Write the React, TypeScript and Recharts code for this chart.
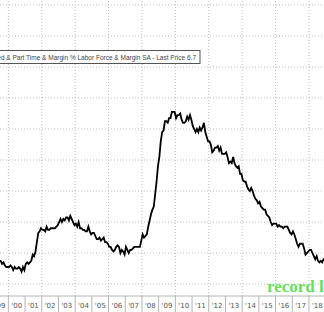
import { LineChart, Line, XAxis, YAxis, ReferenceLine } from "recharts";

// U-6 monthly values (SA), one row per year starting in 1999
const START_YEAR = 1999;
const U6_BY_YEAR: number[][] = [
  [7.7, 7.4, 7.6, 7.6, 7.4, 7.5, 7.5, 7.3, 7.4, 7.2, 7.1, 7.1],
  [7.1, 7.2, 7.1, 6.9, 7.1, 7.0, 7.0, 7.1, 7.0, 6.8, 7.1, 6.9],
  [7.3, 7.4, 7.3, 7.4, 7.5, 7.9, 7.8, 8.1, 8.7, 9.3, 9.4, 9.6],
  [9.5, 9.5, 9.4, 9.7, 9.5, 9.5, 9.6, 9.6, 9.6, 9.6, 9.7, 9.8],
  [10.0, 10.2, 10.0, 10.2, 10.1, 10.3, 10.3, 10.1, 10.4, 10.2, 10.0, 9.8],
  [9.9, 9.7, 10.0, 9.6, 9.6, 9.5, 9.5, 9.4, 9.4, 9.7, 9.4, 9.2],
  [9.3, 9.3, 9.1, 8.9, 8.9, 9.0, 8.8, 8.9, 9.0, 8.7, 8.7, 8.6],
  [8.4, 8.4, 8.2, 8.1, 8.2, 8.4, 8.5, 8.4, 8.0, 8.2, 8.1, 7.9],
  [8.4, 8.2, 8.0, 8.2, 8.2, 8.3, 8.4, 8.4, 8.4, 8.4, 8.4, 8.8],
  [9.2, 9.0, 9.1, 9.2, 9.7, 10.1, 10.5, 10.8, 11.0, 11.8, 12.6, 13.6],
  [14.2, 15.2, 15.8, 15.9, 16.5, 16.5, 16.4, 16.7, 16.7, 17.1, 17.1, 17.1],
  [16.7, 16.9, 16.9, 17.0, 16.6, 16.4, 16.4, 16.5, 16.8, 16.6, 16.9, 16.6],
  [16.2, 16.0, 15.8, 16.0, 15.8, 16.1, 15.9, 16.1, 16.4, 15.8, 15.5, 15.2],
  [15.2, 15.0, 14.5, 14.6, 14.8, 14.8, 14.9, 14.6, 14.8, 14.4, 14.4, 14.4],
  [14.5, 14.2, 13.8, 13.9, 13.8, 14.2, 13.8, 13.6, 13.5, 13.6, 13.1, 13.1],
  [12.7, 12.6, 12.6, 12.3, 12.1, 12.0, 12.2, 12.0, 11.7, 11.5, 11.4, 11.2],
  [11.3, 11.0, 10.9, 10.8, 10.8, 10.5, 10.4, 10.3, 10.0, 9.8, 9.9, 9.9],
  [9.9, 9.7, 9.8, 9.7, 9.7, 9.6, 9.7, 9.7, 9.7, 9.5, 9.3, 9.2],
  [9.4, 9.2, 8.9, 8.6, 8.4, 8.6, 8.6, 8.6, 8.3, 7.9, 8.0, 8.1],
  [8.2, 8.2, 8.0, 7.8, 7.6, 7.8, 7.5, 7.4, 7.5, 7.4, 7.6, 7.6],
  [8.1, 7.3, 7.3, 7.3, 7.1, 7.2, 7.0, 7.2, 6.9, 7.0, 6.9, 6.7],
];

const X_DOMAIN: [number, number] = [1999.5, 2018.9];
const Y_DOMAIN: [number, number] = [5.23, 24.32];
const Y_GRID = [6, 8, 10, 12, 14, 16, 18, 20, 22, 24];
const X_GRID = [2000, 2002, 2004, 2006, 2008, 2010, 2012, 2014, 2016, 2018];
const YEAR_BOUNDS = [2000, 2001, 2002, 2003, 2004, 2005, 2006, 2007, 2008, 2009, 2010, 2011, 2012, 2013, 2014, 2015, 2016, 2017, 2018];
const YEAR_MIDS = [1999, ...YEAR_BOUNDS].map((y) => y + 0.5);

const LEGEND = "U-6 US Unemployed & Part Time & Margin % Labor Force & Margin SA - Last Price 6.7";

const data = U6_BY_YEAR.flatMap((row, i) =>
  row.map((v, m) => ({ t: START_YEAR + i + (m + 0.5) / 12, u6: v }))
);

function YearTick(props: any) {
  const { x, y, payload } = props;
  const v = payload.value as number;
  if (Number.isInteger(v)) {
    return <line x1={x} x2={x} y1={y} y2={y + 16} stroke="#b4b4b4" strokeWidth={1} />;
  }
  const yr = String(Math.floor(v) % 100).padStart(2, "0");
  return (
    <text x={x} y={y + 12} textAnchor="middle" fontSize={7} fill="#555" fontFamily="'DejaVu Sans', sans-serif">
      {`'${yr}`}
    </text>
  );
}

export default function App() {
  return (
    <div style={{ position: "fixed", left: 0, top: 0, width: 324, height: 312, background: "#fff", overflow: "hidden" }}>
      <LineChart width={324} height={312} data={data} margin={{ top: 0, right: 0, bottom: 0, left: 0 }}>
        <XAxis
          dataKey="t"
          type="number"
          domain={X_DOMAIN}
          allowDataOverflow
          ticks={[...YEAR_BOUNDS, ...YEAR_MIDS]}
          interval={0}
          tick={<YearTick />}
          tickLine={false}
          tickSize={0}
          tickMargin={0}
          height={16}
          axisLine={{ stroke: "#b4b4b4" }}
        />
        <YAxis hide width={0} type="number" domain={Y_DOMAIN} allowDataOverflow />
        {Y_GRID.map((v) => (
          <ReferenceLine key={`h${v}`} y={v} stroke="#bdbdbd" strokeDasharray="1 2" />
        ))}
        {X_GRID.map((v) => (
          <ReferenceLine key={`v${v}`} x={v} stroke="#bdbdbd" strokeDasharray="1 2" />
        ))}
        <Line
          type="linear"
          dataKey="u6"
          stroke="#000"
          strokeWidth={1.8}
          dot={false}
          isAnimationActive={false}
        />
      </LineChart>
      <svg width={324} height={312} style={{ position: "absolute", left: 0, top: 0, pointerEvents: "none" }}>
        <rect x={-20} y={50.5} width={220} height={13} fill="#fff" stroke="#555" strokeWidth={1} />
        <text x={196} y={60} textAnchor="end" fontSize={6.5} fill="#444" fontFamily="'Liberation Sans', Arial, sans-serif">
          {LEGEND}
        </text>
        <text x={267} y={292} fontSize={17} fontWeight="bold" fill="#66e060" fontFamily="'Liberation Serif', 'Times New Roman', serif">
          record low
        </text>
      </svg>
    </div>
  );
}
